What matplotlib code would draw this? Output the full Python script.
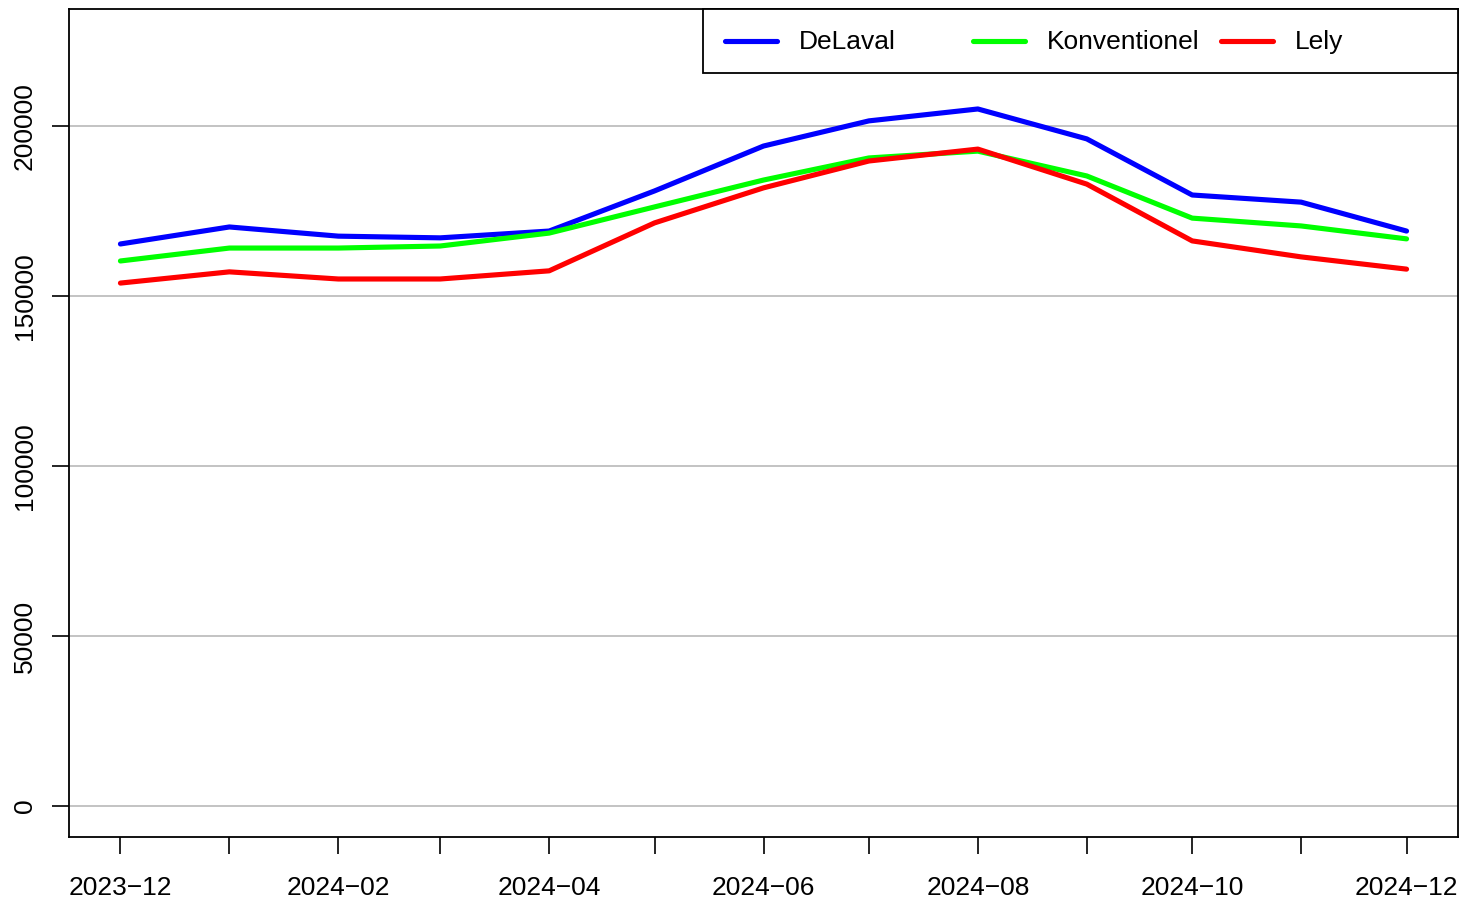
import matplotlib
matplotlib.use("Agg")
import matplotlib.pyplot as plt
import pandas as pd
from matplotlib.patches import Rectangle
from matplotlib.lines import Line2D

plt.rcParams['font.family'] = ['Liberation Sans', 'DejaVu Sans']

months = pd.date_range("2023-12-01", "2024-12-01", freq="MS")
delaval = [165300, 170300, 167600, 167100, 169100, 180900, 194100, 201500, 205000, 196200, 179700, 177600, 169100]
konventionel = [160300, 164100, 164100, 164700, 168500, 176200, 184100, 190600, 192600, 185300, 172900, 170600, 166800]
lely = [153800, 157100, 155000, 155000, 157400, 171500, 181800, 189700, 193200, 182900, 166200, 161500, 157900]
series_names = ["DeLaval", "Konventionel", "Lely"]
series_colors = ["#0000FF", "#00FF00", "#FF0000"]
yticks = [0, 50000, 100000, 150000, 200000]

W, H = 1476, 905
fig = plt.figure(figsize=(W / 100, H / 100), dpi=100)
L, R, T, B = 69, 1458, 9, 837
ax = fig.add_axes([L / W, 1 - B / H, (R - L) / W, (B - T) / H])

for v in yticks:
    ax.axhline(v, color="#BEBEBE", lw=1.3, zorder=1)

for vals, c in zip([delaval, konventionel, lely], series_colors):
    ax.plot(months, vals, color=c, lw=3.7, zorder=3, solid_capstyle="round", solid_joinstyle="round")

span = (months[-1] - months[0])
pad = span * 0.04
ax.set_xlim(months[0] - pad, months[-1] + pad)
ax.set_ylim(-9100, 234400)

FS = 19
ax.set_xticks(months)
labels = [d.strftime("%Y\u2212%m") if i % 2 == 0 else "" for i, d in enumerate(months)]
ax.set_xticklabels(labels, fontsize=FS)
ax.set_yticks(yticks)
ax.set_yticklabels([str(v) for v in yticks], fontsize=FS, rotation=90, va="center")
ax.tick_params(axis="x", length=12, width=1.2, pad=16)
ax.tick_params(axis="y", length=12, width=1.2, pad=11)
for s in ax.spines.values():
    s.set_linewidth(1.3)

# legend (R-style, horizontal)
def axf(px, py):
    return ((px - L) / (R - L), (B - py) / (B - T))

x0, y0 = axf(703, 73)
x1, y1 = axf(1458, 9)
ax.add_patch(Rectangle((x0, y0), x1 - x0, y1 - y0, transform=ax.transAxes,
                       facecolor="white", edgecolor="black", lw=1.3, zorder=5, clip_on=False))
for name, c, lx in zip(series_names, series_colors, [725, 973, 1221]):
    a, yy = axf(lx, 41)
    b, _ = axf(lx + 52, 41)
    ax.add_line(Line2D([a, b], [yy, yy], transform=ax.transAxes, color=c, lw=3.7,
                       solid_capstyle="round", zorder=6))
    tx, _ = axf(lx + 74, 42)
    ax.text(tx, _ if False else axf(0, 42)[1], name, transform=ax.transAxes, fontsize=FS,
            va="center", ha="left", zorder=6)

fig.savefig("out.png", dpi=100)
